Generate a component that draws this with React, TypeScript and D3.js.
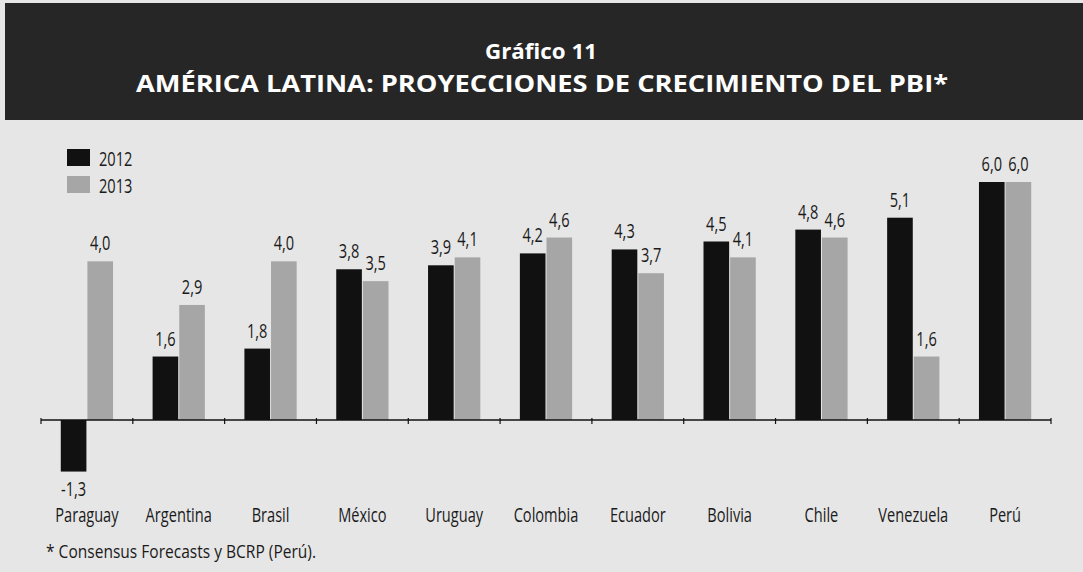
import React, { useEffect, useRef } from 'react';
import * as d3 from 'd3';

const categories = ['Paraguay', 'Argentina', 'Brasil', 'México', 'Uruguay', 'Colombia', 'Ecuador', 'Bolivia', 'Chile', 'Venezuela', 'Perú'];
const values2012 = [-1.3, 1.6, 1.8, 3.8, 3.9, 4.2, 4.3, 4.5, 4.8, 5.1, 6.0];
const values2013 = [4.0, 2.9, 4.0, 3.5, 4.1, 4.6, 3.7, 4.1, 4.6, 1.6, 6.0];
const seriesNames = ['2012', '2013'];

const titleLine1 = 'Gráfico 11';
const titleLine2 = 'AMÉRICA LATINA: PROYECCIONES DE CRECIMIENTO DEL PBI*';
const footnote = '* Consensus Forecasts y BCRP (Perú).';

const App = () => {
  const svgRef = useRef(null);
  const svgWidth = 1083;
  const svgHeight = 572;
  const font = "'Open Sans', 'Noto Sans', sans-serif";
  const squeeze = 0.73; // the original uses a condensed face

  useEffect(() => {
    const svg = d3.select(svgRef.current);
    svg.selectAll('*').remove();

    // background and title band
    svg.append('rect').attr('width', svgWidth).attr('height', svgHeight).attr('fill', '#e6e6e6');
    svg.append('rect').attr('x', 5).attr('y', 3).attr('width', svgWidth - 5).attr('height', 117).attr('fill', '#262626');

    svg.append('text')
      .attr('x', 541).attr('y', 59)
      .attr('text-anchor', 'middle')
      .attr('fill', '#fff')
      .style('font-family', font).style('font-weight', 700).style('font-size', '22px')
      .attr('textLength', 112).attr('lengthAdjust', 'spacingAndGlyphs')
      .text(titleLine1);
    svg.append('text')
      .attr('x', 542).attr('y', 92)
      .attr('text-anchor', 'middle')
      .attr('fill', '#fff')
      .style('font-family', font).style('font-weight', 700).style('font-size', '24px')
      .attr('textLength', 812).attr('lengthAdjust', 'spacingAndGlyphs')
      .text(titleLine2);

    const x = d3.scaleBand()
      .domain(categories)
      .range([41, 1051])
      .paddingInner(0.42)
      .paddingOuter(0.21);

    const xSub = d3.scaleBand()
      .domain(seriesNames)
      .range([0, x.bandwidth()])
      .padding(0);

    const y = d3.scaleLinear().domain([0, 6]).range([420, 182]);

    const color = d3.scaleOrdinal().domain(seriesNames).range(['#111111', '#a6a6a6']);

    const rows = categories.map((c, i) => ({ cat: c, values: [values2012[i], values2013[i]] }));

    const groups = svg.append('g')
      .selectAll('g')
      .data(rows)
      .enter()
      .append('g')
      .attr('transform', d => `translate(${x(d.cat)},0)`);

    const cells = groups.selectAll('g')
      .data(d => seriesNames.map((key, j) => ({ key, value: d.values[j] })))
      .enter().append('g');

    cells.append('rect')
      .attr('x', d => xSub(d.key) + 0.5)
      .attr('width', xSub.bandwidth() - 1)
      .attr('y', d => y(Math.max(0, d.value)))
      .attr('height', d => Math.abs(y(d.value) - y(0)))
      .attr('fill', d => color(d.key));

    cells.append('text')
      .attr('transform', d => {
        const tx = xSub(d.key) + xSub.bandwidth() / 2;
        const ty = d.value >= 0 ? y(d.value) - 11 : y(d.value) + 24;
        return `translate(${tx},${ty}) scale(${squeeze},1)`;
      })
      .attr('text-anchor', 'middle')
      .attr('fill', '#1a1a1a')
      .style('font-family', font).style('font-size', '20px')
      .text(d => d3.format('.1f')(d.value).replace('.', ',').replace('\u2212', '-'));

    // axis
    const axis = svg.append('g');
    axis.append('line')
      .attr('x1', 41).attr('x2', 1051).attr('y1', y(0)).attr('y2', y(0))
      .attr('stroke', '#111').attr('stroke-width', 1.6);
    const bounds = d3.range(categories.length + 1).map(i => 41 + i * x.step());
    axis.selectAll('.tick')
      .data(bounds)
      .enter().append('line')
      .attr('x1', d => d).attr('x2', d => d)
      .attr('y1', y(0) - 2).attr('y2', y(0) + 4)
      .attr('stroke', '#111').attr('stroke-width', 1.2);

    axis.selectAll('.cat')
      .data(categories)
      .enter().append('text')
      .attr('transform', d => `translate(${x(d) + x.bandwidth() / 2},522) scale(${squeeze},1)`)
      .attr('text-anchor', 'middle')
      .attr('fill', '#1a1a1a')
      .style('font-family', font).style('font-size', '20px')
      .text(d => d);

    // legend
    const legend = svg.append('g');
    seriesNames.forEach((s, i) => {
      legend.append('rect')
        .attr('x', 67).attr('y', 149 + i * 27).attr('width', 23).attr('height', 17)
        .attr('fill', color(s));
      legend.append('text')
        .attr('transform', `translate(99,${166 + i * 27}) scale(${squeeze},1)`)
        .attr('fill', '#1a1a1a')
        .style('font-family', font).style('font-size', '20px')
        .text(s);
    });

    svg.append('text')
      .attr('x', 46).attr('y', 558)
      .attr('fill', '#1a1a1a')
      .style('font-family', font).style('font-size', '19px')
      .attr('textLength', 270).attr('lengthAdjust', 'spacingAndGlyphs')
      .text(footnote);
  }, []);

  return (
    <svg
      ref={svgRef}
      width={svgWidth}
      height={svgHeight}
      style={{ position: 'absolute', left: 0, top: 0 }}
    ></svg>
  );
};

export default App;
